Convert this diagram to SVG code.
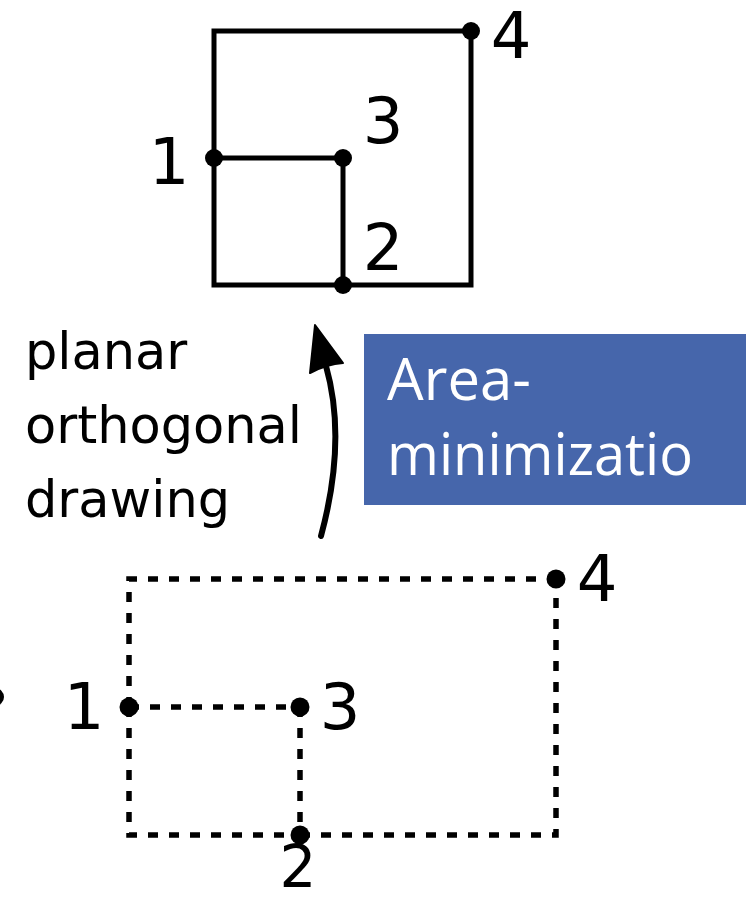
<svg xmlns="http://www.w3.org/2000/svg" width="746" height="900" viewBox="0 0 746 900">
  <style>
    .solid { fill: none; stroke: #000; stroke-width: 5; stroke-linejoin: miter; }
    .dashed { fill: none; stroke: #000; stroke-width: 5.5; stroke-dasharray: 10 11; }
    .dot { fill: #000; }
    .num { font-family: "DejaVu Sans", sans-serif; font-size: 64px; fill: #000; text-anchor: middle; }
    .lbl { font-family: "DejaVu Sans", sans-serif; font-size: 51px; fill: #000; }
    .box { fill: #4666AB; }
    .boxtxt { font-family: "Open Sans", "Noto Sans", sans-serif; font-size: 58px; fill: #fff; }
  </style>
  <rect width="746" height="900" fill="#fff"/>

  <g id="connectors">
    <!-- top drawing -->
    <path class="solid" d="M214,158 H343"/>
    <path class="solid" d="M343,158 V285"/>
    <path class="solid" d="M214,158 V31 H471"/>
    <path class="solid" d="M214,158 V285 H343"/>
    <path class="solid" d="M343,285 H471 V31"/>
    <!-- bottom drawing -->
    <path class="dashed" d="M129,707 H300"/>
    <path class="dashed" d="M300,707 V835"/>
    <path class="dashed" d="M129,707 V579 H556"/>
    <path class="dashed" d="M129,707 V835 H300"/>
    <path class="dashed" d="M300,835 H556 V579"/>
    <!-- transformation arrow -->
    <path d="M321,536 Q347,440 326,366" fill="none" stroke="#000" stroke-width="6" stroke-linecap="round"/>
    <path d="M315,325 L343,363 Q327,364 310,373 Z" fill="#000" stroke="#000" stroke-width="2" stroke-linejoin="round"/>
  </g>

  <g id="top-node-1"><circle class="dot" cx="214" cy="158" r="9"/><text class="num" x="169" y="184">1</text></g>
  <g id="top-node-2"><circle class="dot" cx="343" cy="285" r="9"/><text class="num" x="383" y="270">2</text></g>
  <g id="top-node-3"><circle class="dot" cx="343" cy="158" r="9"/><text class="num" x="383" y="143">3</text></g>
  <g id="top-node-4"><circle class="dot" cx="471" cy="31" r="9"/><text class="num" x="511" y="58">4</text></g>

  <g id="bottom-node-1"><circle class="dot" cx="129" cy="707" r="9.5"/><text class="num" x="84" y="729">1</text></g>
  <g id="bottom-node-2"><circle class="dot" cx="300" cy="835" r="9.5"/><text class="num" x="298" y="887" style="font-size:58px">2</text></g>
  <g id="bottom-node-3"><circle class="dot" cx="300" cy="707" r="9.5"/><text class="num" x="340" y="729">3</text></g>
  <g id="bottom-node-4"><circle class="dot" cx="556" cy="579" r="9.5"/><text class="num" x="597" y="601">4</text></g>

  <g id="edge-mark"><circle class="dot" cx="-5" cy="697" r="9"/></g>

  <g id="label-planar">
    <text class="lbl" x="25" y="369">planar</text>
    <text class="lbl" x="25" y="443">orthogonal</text>
    <text class="lbl" x="25" y="517">drawing</text>
  </g>

  <g id="area-box">
    <rect class="box" x="364" y="334" width="382" height="171"/>
    <text class="boxtxt" x="387" y="400">Area-</text>
    <text class="boxtxt" x="387" y="475" textLength="306" lengthAdjust="spacingAndGlyphs">minimizatio</text>
  </g>
</svg>
